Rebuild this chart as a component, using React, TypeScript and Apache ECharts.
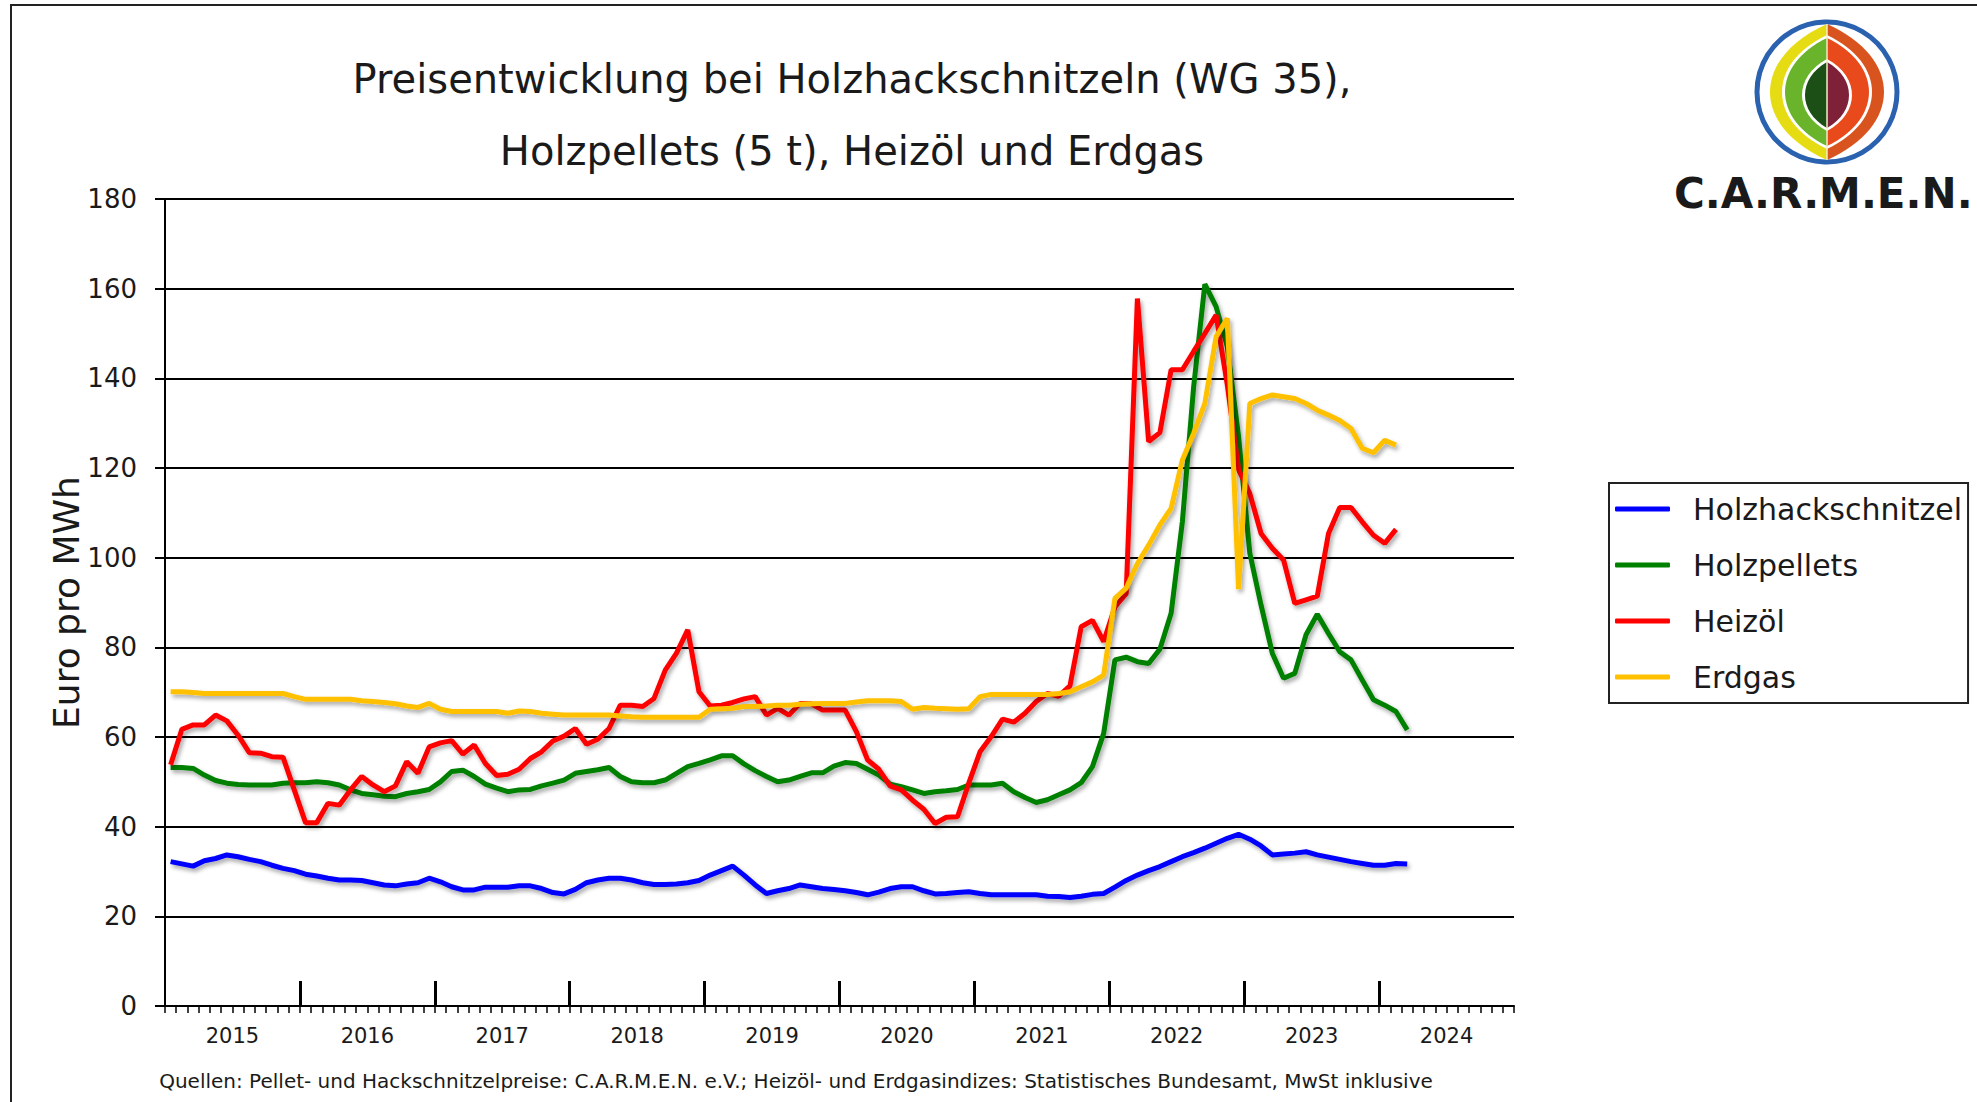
import React, { useEffect, useRef } from "react";
import * as echarts from "echarts";

const FONT = "'DejaVu Sans', sans-serif";

const years = ["2015", "2016", "2017", "2018", "2019", "2020", "2021", "2022", "2023", "2024"];
const months: string[] = [];
years.forEach((y) => {
  for (let m = 1; m <= 12; m++) months.push(`${y}-${m < 10 ? "0" + m : m}`);
});

const yearTickPositions = [12, 24, 36, 48, 60, 72, 84, 96, 108];
const yearLabelPositions = [6, 18, 30, 42, 54, 66, 78, 90, 102, 114];

const seriesNames = ["Holzhackschnitzel", "Holzpellets", "Heizöl", "Erdgas"];
const seriesColors = ["#0000ff", "#008000", "#ff0000", "#ffc000"];

const holzhackschnitzel = [
  32.2, 31.7, 31.2, 32.4, 32.9, 33.7, 33.3, 32.7, 32.2, 31.4, 30.7, 30.2,
  29.4, 29.0, 28.5, 28.1, 28.1, 28.0, 27.5, 27.0, 26.8, 27.2, 27.5, 28.5,
  27.7, 26.6, 25.9, 25.9, 26.5, 26.5, 26.5, 26.8, 26.8, 26.2, 25.3, 25.0,
  26.0, 27.5, 28.1, 28.5, 28.5, 28.1, 27.5, 27.1, 27.1, 27.2, 27.5, 28.0,
  29.2, 30.2, 31.2, 29.2, 27.0, 25.1, 25.7, 26.2, 27.0, 26.6, 26.2, 26.0,
  25.7, 25.3, 24.8, 25.4, 26.2, 26.6, 26.6, 25.7, 25.0, 25.1, 25.3, 25.5,
  25.1, 24.8, 24.8, 24.8, 24.8, 24.8, 24.5, 24.4, 24.2, 24.5, 24.9, 25.1,
  26.5, 28.0, 29.2, 30.2, 31.1, 32.2, 33.3, 34.2, 35.2, 36.3, 37.4, 38.3,
  37.2, 35.7, 33.7, 33.9, 34.1, 34.4, 33.7, 33.2, 32.7, 32.2, 31.8, 31.4,
  31.4, 31.8, 31.7,
];

const holzpellets = [
  53.2, 53.2, 53.0, 51.5, 50.3, 49.7, 49.4, 49.3, 49.3, 49.3, 49.7, 49.8,
  49.8, 50.0, 49.8, 49.3, 48.2, 47.4, 47.1, 46.8, 46.7, 47.4, 47.8, 48.3,
  50.0, 52.3, 52.6, 51.2, 49.5, 48.6, 47.8, 48.2, 48.3, 49.1, 49.7, 50.4,
  51.9, 52.3, 52.7, 53.2, 51.2, 50.0, 49.8, 49.8, 50.4, 51.9, 53.4, 54.1,
  54.9, 55.8, 55.8, 54.0, 52.5, 51.2, 50.0, 50.4, 51.2, 52.0, 52.0, 53.5,
  54.3, 54.1, 52.8, 51.5, 49.5, 48.9, 48.2, 47.4, 47.8, 48.0, 48.3, 49.3,
  49.3, 49.3, 49.7, 47.8, 46.5, 45.4, 46.0, 47.1, 48.2, 49.8, 53.4, 60.8,
  77.2, 77.8, 76.8, 76.4, 79.6, 87.6, 108.0, 138.0, 161.0, 156.0, 147.0, 127.0,
  101.0, 89.4, 78.7, 73.1, 74.2, 82.8, 87.4, 83.1, 79.0, 77.2, 72.7, 68.3,
  67.1, 65.7, 61.6,
];

const heizoel = [
  53.8, 61.7, 62.7, 62.7, 64.9, 63.6, 60.4, 56.5, 56.4, 55.6, 55.5, 48.2,
  40.9, 40.9, 45.2, 44.8, 48.2, 51.2, 49.3, 47.8, 49.1, 54.5, 51.9, 57.8,
  58.7, 59.2, 56.2, 58.2, 54.1, 51.4, 51.7, 52.8, 55.2, 56.7, 59.1, 60.2,
  61.9, 58.4, 59.5, 61.9, 67.1, 67.1, 66.8, 68.6, 74.9, 78.7, 83.9, 70.1,
  66.9, 67.1, 67.7, 68.5, 69.0, 64.9, 66.4, 64.9, 67.5, 67.4, 66.0, 66.0,
  66.0, 61.2, 54.9, 52.8, 49.1, 48.2, 45.9, 43.9, 40.7, 42.1, 42.2, 49.7,
  56.7, 60.1, 64.0, 63.3, 65.3, 67.9, 69.7, 69.1, 71.4, 84.6, 86.0, 81.3,
  89.0, 92.0, 157.8, 125.9, 127.9, 141.9, 141.9, 146.0, 150.0, 154.1, 138.5, 119.6,
  114.3, 105.4, 102.1, 99.5, 89.8, 90.6, 91.4, 105.4, 111.2, 111.2, 108.0, 105.0,
  103.2, 106.3,
];

const erdgas = [
  70.1, 70.1, 69.9, 69.7, 69.7, 69.7, 69.7, 69.7, 69.7, 69.7, 69.7, 69.0,
  68.4, 68.4, 68.4, 68.4, 68.4, 68.1, 67.9, 67.7, 67.4, 66.9, 66.6, 67.5,
  66.2, 65.7, 65.7, 65.7, 65.7, 65.7, 65.3, 65.8, 65.7, 65.3, 65.1, 64.9,
  64.9, 64.9, 64.9, 64.9, 64.7, 64.5, 64.4, 64.4, 64.4, 64.4, 64.4, 64.4,
  66.2, 66.3, 66.4, 66.8, 66.8, 66.9, 67.1, 67.1, 67.3, 67.4, 67.5, 67.5,
  67.5, 67.8, 68.1, 68.1, 68.1, 67.9, 66.2, 66.6, 66.4, 66.3, 66.2, 66.3,
  69.0, 69.5, 69.5, 69.5, 69.5, 69.5, 69.5, 69.7, 70.1, 71.2, 72.3, 73.8,
  90.9, 93.2, 98.7, 102.8, 107.3, 111.0, 121.8, 127.7, 134.4, 149.3, 153.4, 93.0,
  134.4, 135.5, 136.3, 135.9, 135.5, 134.4, 132.9, 131.8, 130.6, 128.8, 124.4, 123.4,
  126.2, 125.1,
];

const seriesData = [holzhackschnitzel, holzpellets, heizoel, erdgas];

const titleText = "Preisentwicklung bei Holzhackschnitzeln (WG 35),\nHolzpellets (5 t), Heizöl und Erdgas";
const sourceText =
  "Quellen: Pellet- und Hackschnitzelpreise: C.A.R.M.E.N. e.V.; Heizöl- und Erdgasindizes: Statistisches Bundesamt, MwSt inklusive";

let shapesRegistered = false;
function registerShapes() {
  if (shapesRegistered) return;
  shapesRegistered = true;
  echarts.graphic.registerShape(
    "leafL",
    echarts.graphic.extendPath("M0,-1C-1.333,-0.5,-1.333,0.5,0,1Z", {})
  );
  echarts.graphic.registerShape(
    "leafR",
    echarts.graphic.extendPath("M0,-1C1.333,-0.5,1.333,0.5,0,1Z", {})
  );
}

function leaf(cx: number, cy: number, w: number, h: number, left: string, right: string) {
  return [
    { type: "leafL", x: cx, y: cy, scaleX: w, scaleY: h, style: { fill: left } },
    { type: "leafR", x: cx, y: cy, scaleX: w, scaleY: h, style: { fill: right } },
  ];
}

export default function App() {
  const ref = useRef<HTMLDivElement>(null);

  useEffect(() => {
    if (!ref.current) return;
    registerShapes();
    const chart = echarts.init(ref.current, undefined, { renderer: "svg" });

    const lcx = 1827;
    const lcy = 92;

    const option: any = {
      animation: false,
      backgroundColor: "#ffffff",
      textStyle: { fontFamily: FONT },
      title: {
        text: titleText,
        left: 852,
        top: 43,
        padding: 0,
        textAlign: "center",
        textStyle: {
          fontFamily: FONT,
          fontSize: 40,
          fontWeight: "normal",
          lineHeight: 72,
          color: "#1a1a1a",
        },
      },
      legend: {
        orient: "vertical",
        left: 1609,
        top: 483,
        padding: [9, 6, 9, 6],
        itemWidth: 55,
        itemHeight: 5,
        itemGap: 22,
        icon: "roundRect",
        borderColor: "#222",
        borderWidth: 2,
        data: seriesNames,
        textStyle: {
          fontFamily: FONT,
          fontSize: 30,
          color: "#1a1a1a",
          lineHeight: 34,
          padding: [0, 0, 0, 18],
        },
      },
      grid: { left: 165, right: 463, top: 199, bottom: 96 },
      xAxis: [
        {
          type: "category",
          data: months,
          boundaryGap: true,
          position: "bottom",
          axisLine: { onZero: false, lineStyle: { color: "#000", width: 2 } },
          axisTick: { show: true, interval: 0, length: 7, lineStyle: { color: "#000", width: 1.5 } },
          axisLabel: { show: false },
          splitLine: { show: false },
        },
        {
          type: "value",
          min: 0,
          max: 120,
          position: "bottom",
          axisLine: { show: false, onZero: false },
          axisTick: {
            show: true,
            inside: true,
            length: 25,
            customValues: yearTickPositions,
            lineStyle: { color: "#000", width: 3 },
          },
          axisLabel: {
            show: true,
            customValues: yearLabelPositions,
            formatter: (v: number) => years[Math.floor(v / 12)],
            fontFamily: FONT,
            fontSize: 21,
            color: "#1a1a1a",
            margin: 19,
          },
          splitLine: { show: false },
        },
      ],
      yAxis: {
        type: "value",
        min: 0,
        max: 180,
        interval: 20,
        name: "Euro pro MWh",
        nameLocation: "middle",
        nameRotate: 90,
        nameGap: 81,
        nameMoveOverlap: false,
        nameTextStyle: { fontFamily: FONT, fontSize: 36, color: "#1a1a1a" },
        axisLine: { show: true, lineStyle: { color: "#000", width: 2 } },
        axisTick: { show: true, length: 10, lineStyle: { color: "#000", width: 2 } },
        axisLabel: { fontFamily: FONT, fontSize: 26, color: "#1a1a1a", margin: 28 },
        splitLine: { show: true, lineStyle: { color: "#000", width: 2 } },
      },
      series: seriesNames.map((name, i) => ({
        name,
        type: "line",
        xAxisIndex: 0,
        data: seriesData[i],
        showSymbol: false,
        symbol: "none",
        lineStyle: {
          color: seriesColors[i],
          width: 5,
          shadowColor: "rgba(0,0,0,0.35)",
          shadowBlur: 4,
          shadowOffsetX: 2,
          shadowOffsetY: 3,
        },
        itemStyle: { color: seriesColors[i] },
        z: 3 + i,
      })),
      graphic: [
        {
          type: "rect",
          shape: { x: 11, y: 5, width: 2100, height: 1200 },
          style: { fill: "none", stroke: "#222", lineWidth: 2 },
          silent: true,
        },
        {
          type: "text",
          x: 796,
          y: 1081,
          style: {
            text: sourceText,
            fontFamily: FONT,
            fontSize: 20,
            fill: "#1a1a1a",
            align: "center",
            verticalAlign: "middle",
          },
        },
        {
          type: "group",
          children: [
            {
              type: "circle",
              shape: { cx: lcx, cy: lcy, r: 70 },
              style: { fill: "#fff", stroke: "#2a62b0", lineWidth: 5 },
            },
            ...leaf(lcx, lcy, 57, 68, "#e6dc14", "#d9531e"),
            ...leaf(lcx, lcy, 45, 57, "#ffffff", "#ffffff"),
            ...leaf(lcx, lcy, 42, 54, "#6ab42c", "#e84a1c"),
            ...leaf(lcx, lcy + 3, 25, 36, "#ffffff", "#ffffff"),
            ...leaf(lcx, lcy + 3, 22, 33, "#1c4f16", "#7e2038"),
            {
              type: "line",
              shape: { x1: lcx, y1: lcy - 68, x2: lcx, y2: lcy + 68 },
              style: { stroke: "#f2eec8", lineWidth: 1.5 },
            },
          ],
        },
        {
          type: "text",
          x: 1674,
          y: 193,
          style: {
            text: "C.A.R.M.E.N.",
            fontFamily: FONT,
            fontSize: 42,
            fontWeight: "bold",
            fill: "#1a1a1a",
            align: "left",
            verticalAlign: "middle",
          },
        },
      ],
    };

    chart.setOption(option);
    return () => chart.dispose();
  }, []);

  return (
    <div
      ref={ref}
      style={{ position: "absolute", left: 0, top: 0, width: 1977, height: 1102 }}
    />
  );
}
